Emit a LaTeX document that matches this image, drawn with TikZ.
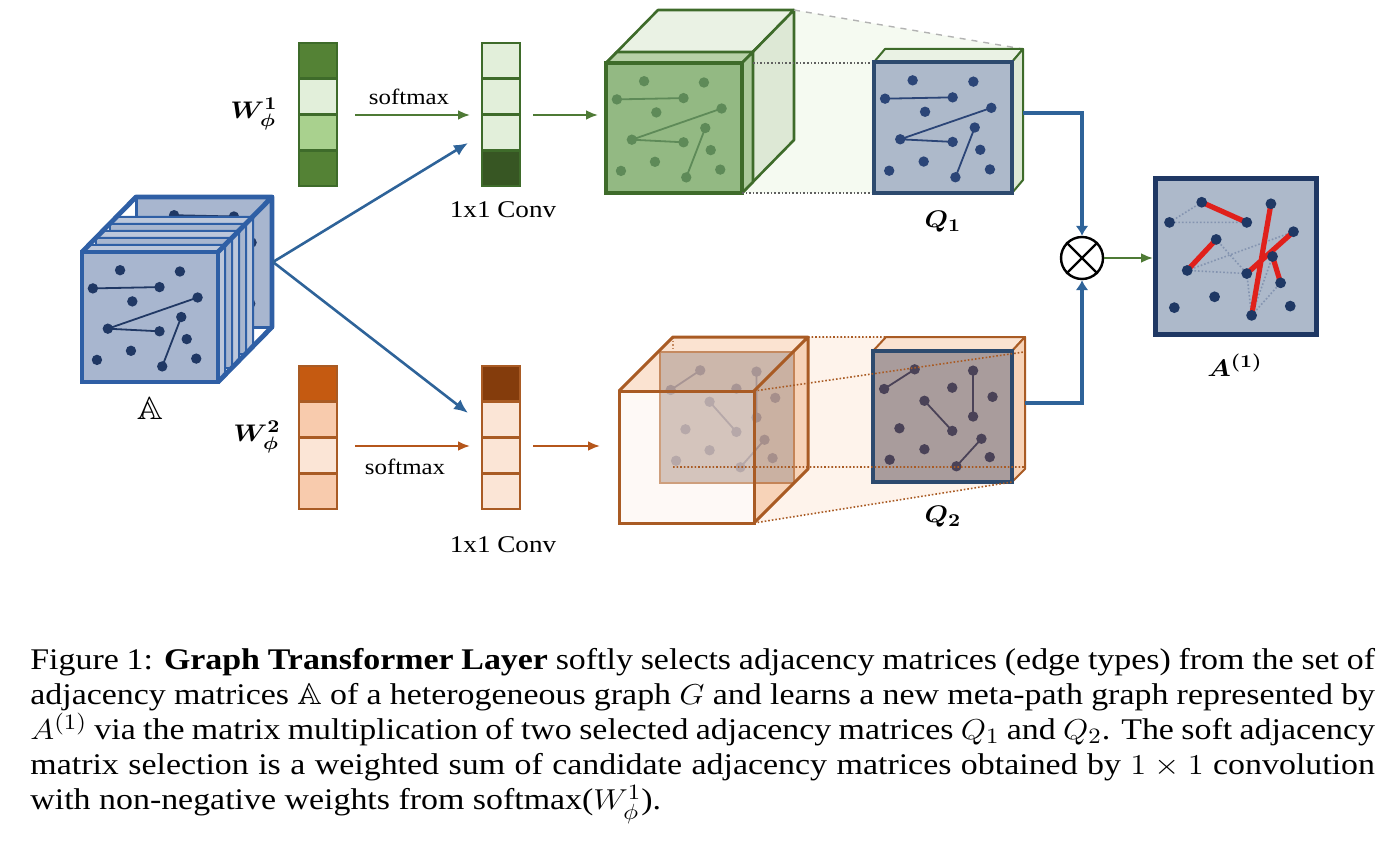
\documentclass[tikz,border=0pt]{standalone}
\usepackage{fontspec}
\usepackage{amsmath,amssymb}
\usepackage{graphicx}
\setmainfont{Liberation Serif}
\usetikzlibrary{arrows.meta}

\definecolor{bl}{HTML}{2E6399}
\definecolor{cubeblue}{HTML}{2F5FA5}
\definecolor{platefill}{HTML}{A8B6CF}
\definecolor{plateside}{HTML}{BCC7DB}
\definecolor{navy}{HTML}{203864}
\definecolor{gD}{HTML}{548235}
\definecolor{gDD}{HTML}{375623}
\definecolor{gL}{HTML}{E2EFDA}
\definecolor{gM}{HTML}{A9D18E}
\definecolor{gO}{HTML}{3E6B2A}
\definecolor{gArr}{HTML}{4E7A35}
\definecolor{gFace}{HTML}{93B983}
\definecolor{gDot}{HTML}{5E8A58}
\definecolor{gTop}{HTML}{EAF2E4}
\definecolor{gRight}{HTML}{DDE8D5}
\definecolor{gSlabTop}{HTML}{B7D1A7}
\definecolor{gSlabRight}{HTML}{ABC99B}
\definecolor{gExt}{HTML}{F5FAF1}
\definecolor{qfill}{HTML}{ADB9CA}
\definecolor{qedge}{HTML}{2D4A6E}
\definecolor{qdot}{HTML}{2B4577}
\definecolor{oD}{HTML}{C55A11}
\definecolor{oL}{HTML}{F8CBAD}
\definecolor{oLL}{HTML}{FBE5D6}
\definecolor{oDD}{HTML}{843C0C}
\definecolor{oO}{HTML}{A95B24}
\definecolor{oArr}{HTML}{B5561B}
\definecolor{oTop}{HTML}{FBE3D1}
\definecolor{oRight}{HTML}{F7D3B8}
\definecolor{oFront}{HTML}{FDF2EA}
\definecolor{oExt}{HTML}{FEF3EB}
\definecolor{oPlate}{HTML}{B3A097}
\definecolor{oDot}{HTML}{7C6C74}
\definecolor{qtwofill}{HTML}{A99C9C}
\definecolor{qtwodot}{HTML}{4A4257}
\definecolor{aedge}{HTML}{1F3864}
\definecolor{redline}{HTML}{E0201B}
\definecolor{greydot}{HTML}{8494B0}

\newcommand\hs[1]{\scalebox{1.13}[1]{#1}}

% pattern one: x y w h colour extra-lines
\newcommand\patone[6]{%
  \begin{scope}[shift={(#1,#2)},xscale=#3,yscale=#4]
    \foreach \nn/\px/\py in {1/0.28/0.14,2/0.72/0.15,3/0.08/0.28,4/0.57/0.27,5/0.37/0.38,6/0.85/0.35,7/0.19/0.59,8/0.57/0.61,9/0.73/0.50,10/0.59/0.88,11/0.77/0.67,12/0.36/0.76,13/0.11/0.83,14/0.84/0.82}
      \coordinate (p\nn) at (\px,\py);
  \end{scope}
  \draw[#5,line width=0.9pt] (p3)--(p4) (p7)--(p8) (p7)--(p6) (p9)--(p10) #6;
  \foreach \nn in {1,...,14} \fill[#5] (p\nn) circle[radius=2.6pt];
}
% pattern two
\newcommand\pattwo[5]{%
  \begin{scope}[shift={(#1,#2)},xscale=#3,yscale=#4]
    \foreach \nn/\px/\py in {1/0.08/0.29,2/0.30/0.14,3/0.57/0.28,4/0.72/0.15,5/0.72/0.50,6/0.86/0.35,7/0.37/0.38,8/0.57/0.61,9/0.19/0.59,10/0.37/0.75,11/0.12/0.83,12/0.78/0.67,13/0.60/0.88,14/0.84/0.81}
      \coordinate (r\nn) at (\px,\py);
  \end{scope}
  \draw[#5,line width=0.9pt] (r1)--(r2) (r4)--(r5) (r7)--(r8) (r12)--(r13);
  \foreach \nn in {1,...,14} \fill[#5] (r\nn) circle[radius=2.6pt];
}
% plate of the stack A
\newcommand\aplate[3]{%
  \filldraw[fill=plateside,draw=cubeblue,line width=1pt,line join=round]
    (#1,#2)--++(7,-7)--++(136,0)--++(0,130)--++(-7,7)--++(0,-130)--cycle;
  \draw[cubeblue,line width=1pt] (#1+136,#2)--++(7,-7);
  \filldraw[fill=platefill,draw=cubeblue,line width=#3] (#1,#2) rectangle ++(136,130);
  \patone{#1}{#2}{136}{130}{navy}{}
}
% weight bar: x y c1 c2 c3 c4 outline
\newcommand\wbar[7]{%
  \fill[#3] (#1,#2) rectangle ++(38,35.75);
  \fill[#4] (#1,#2+35.75) rectangle ++(38,35.75);
  \fill[#5] (#1,#2+71.5) rectangle ++(38,35.75);
  \fill[#6] (#1,#2+107.25) rectangle ++(38,35.75);
  \draw[#7,line width=1.3pt] (#1,#2) rectangle ++(38,143)
    (#1,#2+35.75)--++(38,0) (#1,#2+71.5)--++(38,0) (#1,#2+107.25)--++(38,0);
}

\tikzset{
  lbl/.style={font=\fontsize{12.5}{14}\selectfont, inner sep=1pt},
  smx/.style={font=\fontsize{11}{13}\selectfont, inner sep=1pt},
  cnv/.style={font=\fontsize{12}{14}\selectfont, inner sep=1pt},
  garr/.style={draw=gArr, line width=1.2pt, -{Latex[length=6pt,width=5pt]}},
  oarr/.style={draw=oArr, line width=1.2pt, -{Latex[length=6pt,width=5pt]}},
  barr/.style={draw=bl, line width=1.3pt, -{Latex[length=7pt,width=6pt]}},
  thickarr/.style={draw=bl, line width=2.3pt, -{Latex[length=5pt,width=6.5pt]}},
  cubeedge/.style={line width=1.3pt, line join=round},
  ext/.style={densely dotted, line width=0.8pt},
}

\begin{document}
\begin{tikzpicture}[x=0.5pt,y=-0.5pt]
\useasboundingbox (0,0) rectangle (1400,844);

% ---------------- stack A ----------------
\filldraw[fill=platefill,draw=cubeblue,line width=1.5pt] (136,197) rectangle (272,327);
\patone{136}{197}{136}{130}{navy}{(p1)--(p2)}
\aplate{110}{224}{1.2pt}
\aplate{96}{238}{1.2pt}
\aplate{82}{252}{2.3pt}
\draw[cubeblue,line width=2.4pt,line join=round]
  (82,252)--(136,197)--(272,197)--(272,327)--(218,382) (218,252)--(272,197);
\node[font=\fontsize{16}{16}\selectfont, inner sep=1pt] (Alab) at (150,408) {\hs{$\mathbb{A}$}};
\coordinate (Aout) at (273,262);

% ---------------- weight bars ----------------
\wbar{299}{43}{gD}{gL}{gM}{gD}{gO}
\wbar{482}{43}{gL}{gL}{gL}{gDD}{gO}
\wbar{299}{366}{oD}{oL}{oLL}{oL}{oO}
\wbar{482}{366}{oDD}{oLL}{oLL}{oLL}{oO}
\node[lbl] (w1lab) at (254,114) {\hs{$\boldsymbol{W^{1}_{\phi}}$}};
\node[lbl] (w2lab) at (257,437) {\hs{$\boldsymbol{W^{2}_{\phi}}$}};

\coordinate (s1a) at (355,115); \coordinate (s1b) at (470,115);
\coordinate (s2a) at (355,446); \coordinate (s2b) at (470,446);
\draw[garr] (s1a) -- (s1b);
\draw[oarr] (s2a) -- (s2b);
\node[smx] (sm1) at (409,97) {\hs{softmax}};
\node[smx] (sm2) at (405,467) {\hs{softmax}};
\node[cnv] (cv1) at (503,210) {\hs{1x1 Conv}};
\node[cnv] (cv2) at (503,545) {\hs{1x1 Conv}};

\coordinate (c1in) at (468,143); \coordinate (c2in) at (468,413);
\draw[barr] (Aout) -- (c1in);
\draw[barr] (Aout) -- (c2in);

\coordinate (c1out) at (533,115); \coordinate (gcin) at (598,115);
\coordinate (c2out) at (533,446); \coordinate (ocin) at (600,446);
\draw[garr] (c1out) -- (gcin);
\draw[oarr] (c2out) -- (ocin);

% ---------------- green cube and Q1 ----------------
\fill[gExt] (742,63)--(794,10)--(1023,49)--(1023,180)--(1012,193)--(742,193)--cycle;
\filldraw[fill=gTop,draw=gO,cubeedge] (606,63)--(658,10)--(794,10)--(742,63)--cycle;
\filldraw[fill=gRight,draw=gO,cubeedge] (742,63)--(794,10)--(794,140)--(742,193)--cycle;
\filldraw[fill=gSlabTop,draw=gO,cubeedge] (606,63)--(617,52)--(753,52)--(742,63)--cycle;
\filldraw[fill=gSlabRight,draw=gO,cubeedge] (742,63)--(753,52)--(753,182)--(742,193)--cycle;
\filldraw[fill=gFace,draw=gO,line width=1.6pt] (606,63) rectangle (742,193);
\patone{606}{63}{136}{130}{gDot}{}
\draw[ext,color=gray!75!black] (753,63)--(874,63) (742,193)--(874,193);
\draw[dashed,gray!60,line width=0.7pt] (794,10)--(1023,49);

\filldraw[fill=gTop,draw=gO,line width=1pt,line join=round] (874,62)--(885,49)--(1023,49)--(1012,62)--cycle;
\filldraw[fill=gRight,draw=gO,line width=1pt,line join=round] (1012,62)--(1023,49)--(1023,180)--(1012,193)--cycle;
\filldraw[fill=qfill,draw=qedge,line width=2.2pt] (874,62) rectangle (1012,193);
\patone{874}{62}{138}{131}{qdot}{}
\node[lbl] (q1lab) at (943,222) {\hs{$\boldsymbol{Q_1}$}};

% ---------------- orange cube and Q2 ----------------
\fill[oExt] (754,391)--(808,337)--(1025,337)--(1025,469)--(1012,482)--(754,523)--cycle;
\fill[oTop] (619,391)--(673,337)--(808,337)--(754,391)--cycle;
\fill[oRight] (754,391)--(808,337)--(808,469)--(754,523)--cycle;
\draw[ext,color=oO] (673,337)--(673,467);
\filldraw[fill=oPlate,draw=oO,line width=1.3pt] (660,352) rectangle (794,483);
\pattwo{660}{352}{134}{131}{oDot}
\fill[oRight,opacity=0.35] (754,391)--(808,337)--(808,469)--(754,523)--cycle;
\fill[oTop,opacity=0.35] (619,391)--(673,337)--(808,337)--(754,391)--cycle;
\filldraw[fill=oFront,fill opacity=0.45,draw=oO,line width=1.5pt] (619,391) rectangle (754,523);
\draw[oO,line width=1.5pt,line join=round]
  (619,391)--(673,337)--(808,337)--(808,469)--(754,523) (754,391)--(808,337);

\filldraw[fill=oTop,draw=oO,line width=1pt,line join=round] (873,351)--(886,337)--(1025,337)--(1012,351)--cycle;
\filldraw[fill=oRight,draw=oO,line width=1pt,line join=round] (1012,351)--(1025,337)--(1025,469)--(1012,482)--cycle;
\filldraw[fill=qtwofill,draw=qedge,line width=2.2pt] (873,351) rectangle (1012,482);
\pattwo{873}{351}{139}{131}{qtwodot}
\draw[ext,color=oO] (808,337)--(886,337) (754,391)--(1024,352) (754,523)--(1012,482) (673,467)--(1025,467);
\node[lbl] (q2lab) at (943,517) {\hs{$\boldsymbol{Q_2}$}};

% ---------------- multiplication ----------------
\node[circle,draw,line width=1.2pt,minimum size=21pt,inner sep=0] (mul) at (1082,258) {};
\draw[line width=1.2pt] (mul.north west)--(mul.south east) (mul.north east)--(mul.south west);
\coordinate (q1out) at (1023,113);
\coordinate (q2out) at (1025,403);
\draw[thickarr] (q1out) -| (mul.north);
\draw[thickarr] (q2out) -| (mul.south);
\coordinate (a1in) at (1153,258);
\draw[garr] (mul.east) -- (a1in);

% ---------------- A(1) ----------------
\filldraw[fill=qfill,draw=aedge,line width=2.5pt] (1155,179) rectangle (1316,334);
\begin{scope}[shift={(1155,179)},xscale=161,yscale=155]
  \foreach \nn/\px/\py in {a/0.29/0.15,b/0.09/0.28,c/0.57/0.28,d/0.72/0.16,e/0.86/0.34,f/0.38/0.39,g/0.20/0.59,h/0.57/0.61,i/0.73/0.50,j/0.78/0.67,k/0.37/0.76,l/0.12/0.83,m/0.84/0.82,n/0.60/0.88}
    \coordinate (t\nn) at (\px,\py);
\end{scope}
\draw[greydot,densely dotted,line width=0.8pt] (ta)--(tb)--(tc) (tg)--(th)--(tf) (tg)--(te) (tn)--(tj) (tn)--(ti) (th)--(tn);
\draw[redline,line width=2.6pt] (ta)--(tc) (td)--(tn) (tf)--(tg) (th)--(te) (ti)--(tj);
\foreach \nn in {a,b,c,d,e,f,g,h,i,j,k,l,m,n} \fill[aedge] (t\nn) circle[radius=2.7pt];
\node[lbl] (a1lab) at (1235,365) {\hs{$\boldsymbol{A^{(1)}}$}};

% ---------------- caption ----------------
\node[anchor=north west,inner sep=0] (cap) at (30,648) {\scalebox{1.13}[1]{\parbox{595pt}{%
\fontsize{15}{17.5}\selectfont\hyphenpenalty=10000\exhyphenpenalty=10000
Figure 1: \textbf{Graph Transformer Layer} softly selects adjacency matrices (edge types) from the set of\linebreak
adjacency matrices $\mathbb{A}$ of a heterogeneous graph $G$ and learns a new meta-path graph represented by\linebreak
$A^{(1)}$ via the matrix multiplication of two selected adjacency matrices $Q_1$ and $Q_2$. The soft adjacency\linebreak
matrix selection is a weighted sum of candidate adjacency matrices obtained by $1\times 1$ convolution\linebreak
with non-negative weights from softmax($W^1_\phi$).}}};
\end{tikzpicture}
\end{document}
